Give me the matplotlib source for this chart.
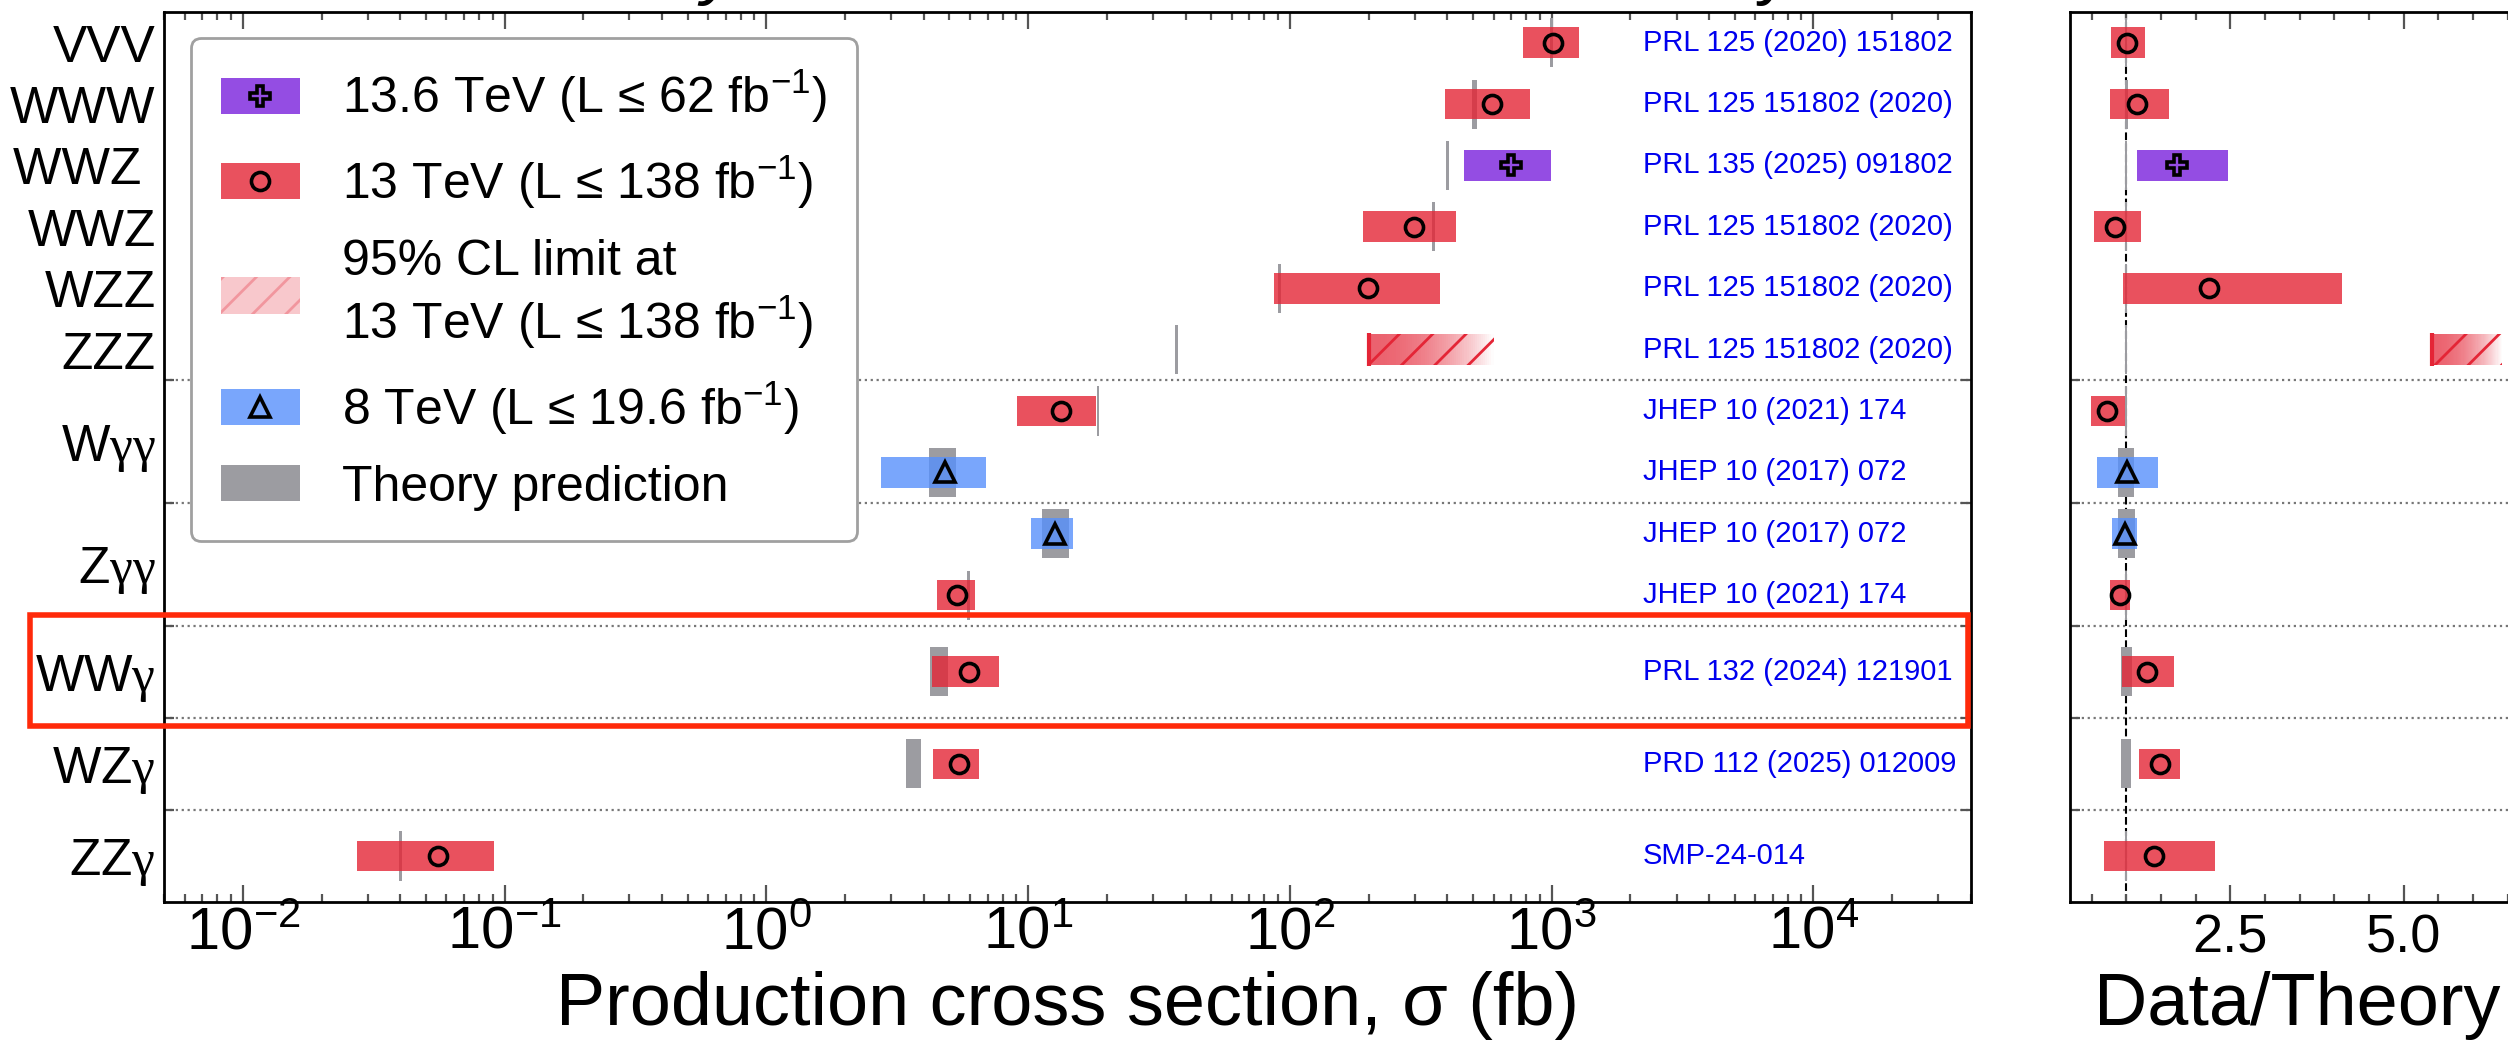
import matplotlib
matplotlib.use('Agg')
import matplotlib.pyplot as plt
import matplotlib.transforms as mtransforms
import numpy as np
from matplotlib.patches import Patch, Rectangle
from matplotlib.lines import Line2D
from matplotlib.ticker import MultipleLocator, FormatStrFormatter, LogLocator, NullFormatter

plt.rcParams['font.family'] = ['Liberation Sans', 'DejaVu Sans']
plt.rcParams['mathtext.fontset'] = 'custom'
plt.rcParams['mathtext.rm'] = 'Liberation Serif'
plt.rcParams['mathtext.it'] = 'Liberation Serif:italic'
plt.rcParams['mathtext.bf'] = 'Liberation Serif:bold'
plt.rcParams['hatch.linewidth'] = 1.0

# ---- data, top to bottom ----
labels = ['VVV', 'WWW', 'WWZ ', 'WWZ', 'WZZ', 'ZZZ',
          r'W$\mathrm{\gamma\gamma}$', r'Z$\mathrm{\gamma\gamma}$',
          r'WW$\mathrm{\gamma}$', r'WZ$\mathrm{\gamma}$', r'ZZ$\mathrm{\gamma}$']
label_pos = [0.5, 1.5, 2.5, 3.5, 4.5, 5.5, 7.0, 9.0, 10.75, 12.25, 13.75]
row_pos = [0.5, 1.5, 2.5, 3.5, 4.5, 5.5, 6.5, 7.5, 8.5, 9.5, 10.75, 12.25, 13.75]
separators = [6, 8, 10, 11.5, 13]

energy = ['13', '13', '13.6', '13', '13', 'limit', '13', '8', '8', '13', '13', '13', '13']
meas = [1010, 590, 697, 298, 199, np.nan, 13.4, 4.8, 12.7, 5.35, 5.96, 5.45, 0.0558]
meas_lo = [780, 391, 461, 191, 87, np.nan, 9.07, 2.74, 10.3, 4.50, 4.30, 4.34, 0.0274]
meas_hi = [1270, 824, 991, 431, 374, np.nan, 18.1, 6.92, 14.8, 6.27, 7.75, 6.50, 0.091]
theory = [1000, 508, 401, 354, 91, 37, 18.5, 4.73, 12.85, 5.92, 4.59, 3.65, 0.040]
theory_unc = [0.012, 0.022, 0.012, 0.015, 0.012, 0.012, 0.012, 0.118, 0.12, 0.012, 0.078, 0.068, 0.012]
refs = ['PRL 125 (2020) 151802', 'PRL 125 151802 (2020)', 'PRL 135 (2025) 091802',
        'PRL 125 151802 (2020)', 'PRL 125 151802 (2020)', 'PRL 125 151802 (2020)',
        'JHEP 10 (2021) 174', 'JHEP 10 (2017) 072', 'JHEP 10 (2017) 072',
        'JHEP 10 (2021) 174', 'PRL 132 (2024) 121901', 'PRD 112 (2025) 012009', 'SMP-24-014']
limit_lo, limit_hi = 200, 600      # ZZZ 95% CL limit (fb)
limit_ratio_hi = 6.42

red, blue, purple, gray = '#e42536', '#5790fc', '#7a21dd', '#9c9ca1'
style = {'13': (red, 'o', 6.5), '13.6': (purple, 'P', 7.5), '8': (blue, '^', 7.5)}

fig = plt.figure(figsize=(12.54, 5.22), dpi=200)
W, H = 2508, 1044
ax = fig.add_axes([164 / W, 1 - 902 / H, (1971 - 164) / W, 890 / H])
ax2 = fig.add_axes([2070 / W, 1 - 902 / H, 535 / W, 890 / H], sharey=ax)


def gradient_bar(a, y, x0, x1, logscale):
    n = 60
    if logscale:
        edges = np.logspace(np.log10(x0), np.log10(x1), n + 1)
    else:
        edges = np.linspace(x0, x1, n + 1)
    f = (np.arange(n) + 0.5) / n
    alphas = 0.72 * (1 - f**2)
    for k in range(n):
        a.barh(y, edges[k + 1] - edges[k], left=edges[k], height=0.5, color=red,
               alpha=alphas[k], lw=0, antialiased=False, zorder=3)
    a.barh(y, x1 - x0, left=x0, height=0.5, facecolor='none', edgecolor=red,
           hatch='//', lw=0, zorder=3.5)
    a.vlines(x0, y - 0.27, y + 0.27, colors=red, lw=1.5, zorder=4)


for i, y in enumerate(row_pos):
    t, u = theory[i], theory_unc[i]
    # theory band
    ax.barh(y, 2 * t * u, left=t * (1 - u), height=0.8, color=gray, lw=0, zorder=2)
    ax2.barh(y, 2 * u, left=1 - u, height=0.8, color=gray, lw=0, zorder=2)
    if energy[i] == 'limit':
        gradient_bar(ax, y, limit_lo, limit_hi, True)
        gradient_bar(ax2, y, limit_lo / t, limit_ratio_hi, False)
    else:
        c, mk, ms = style[energy[i]]
        ax.barh(y, meas_hi[i] - meas_lo[i], left=meas_lo[i], height=0.5, color=c,
                alpha=0.8, lw=0, zorder=3)
        ax.plot(meas[i], y, marker=mk, ms=ms, mfc='none', mec='k', mew=1.3, ls='', zorder=5)
        ax2.barh(y, (meas_hi[i] - meas_lo[i]) / t, left=meas_lo[i] / t, height=0.5,
                 color=c, alpha=0.8, lw=0, zorder=3)
        ax2.plot(meas[i] / t, y, marker=mk, ms=ms, mfc='none', mec='k', mew=1.3, ls='', zorder=5)
    trans = mtransforms.blended_transform_factory(ax.transAxes, ax.transData)
    ax.text(0.8185, y, refs[i], transform=trans, color='#0000ee', fontsize=10.5,
            va='center', ha='left')

for a in (ax, ax2):
    for s in separators:
        a.axhline(s, color='#777777', ls=':', lw=0.8, zorder=1)
    for sp in a.spines.values():
        sp.set_linewidth(1.0)
    a.tick_params(axis='x', which='both', direction='in', top=True, bottom=True,
                  color='#555555', width=0.8, labelsize=21.5, pad=1.5)
    a.tick_params(axis='x', which='major', length=6)
    a.tick_params(axis='x', which='minor', length=3)
    a.set_yticks(separators, minor=True)
    a.tick_params(axis='y', which='minor', direction='in', left=True, right=True,
                  length=3.5, width=0.8, color='#555555')

ax2.axvline(1.0, color='k', ls='--', lw=0.75, zorder=1.5)

ax.set_xscale('log')
ax.set_xlim(5e-3, 4e4)
ax.xaxis.set_major_locator(LogLocator(base=10, numticks=20))
ax.xaxis.set_minor_locator(LogLocator(base=10, subs=np.arange(2, 10), numticks=100))
ax.xaxis.set_minor_formatter(NullFormatter())
ax.set_ylim(14.5, 0)
ax.set_yticks(label_pos, labels)
ax.tick_params(axis='y', which='major', length=0, labelsize=18.5, pad=3)

ax2.set_xlim(0.19, 7.9)
ax2.xaxis.set_major_locator(MultipleLocator(2.5))
ax2.xaxis.set_minor_locator(MultipleLocator(0.5))
ax2.xaxis.set_major_formatter(FormatStrFormatter('%.1f'))
ax2.tick_params(axis='x', labelsize=19.5, pad=4)
ax2.tick_params(axis='y', which='major', left=False, labelleft=False)

ax.set_xlabel('Production cross section, σ (fb)', fontsize=26.6)
ax.xaxis.set_label_coords(0.5, -0.0775)
ax2.set_xlabel('Data/Theory', fontsize=26.6)
ax2.xaxis.set_label_coords(0.424, -0.0775)

# legend
mk_kw = dict(ls='', mfc='none', mec='k', mew=1.3)
handles = [
    (Patch(facecolor=purple, alpha=0.8, lw=0), Line2D([], [], marker='P', ms=7.5, **mk_kw)),
    (Patch(facecolor=red, alpha=0.8, lw=0), Line2D([], [], marker='o', ms=6.5, **mk_kw)),
    Patch(facecolor=(0.894, 0.145, 0.212, 0.25), edgecolor=(0.894, 0.145, 0.212, 0.3),
          hatch='//', lw=0),
    (Patch(facecolor=blue, alpha=0.8, lw=0), Line2D([], [], marker='^', ms=7.5, **mk_kw)),
    Patch(facecolor=gray, lw=0),
]
leg_labels = [r'13.6 TeV (L ≤ 62 $\mathdefault{fb^{-1}}$)',
              r'13 TeV (L ≤ 138 $\mathdefault{fb^{-1}}$)',
              '95% CL limit at\n' + r'13 TeV (L ≤ 138 $\mathdefault{fb^{-1}}$)',
              r'8 TeV (L ≤ 19.6 $\mathdefault{fb^{-1}}$)',
              'Theory prediction']
leg = ax.legend(handles, leg_labels, loc='upper left', bbox_to_anchor=(0.0149, 0.9708),
                borderaxespad=0, fontsize=18, handlelength=1.58, handleheight=0.74,
                handletextpad=0.85, labelspacing=0.56, borderpad=0.6, framealpha=1,
                edgecolor='#a0a0a0', fancybox=True)
leg.get_frame().set_linewidth(1.0)
leg.set_zorder(8)

# highlighted row
fig.add_artist(Rectangle((30 / W, 1 - 726 / H), (1968 - 30) / W, (726 - 615) / H,
                         transform=fig.transFigure, fill=False, ec='#ff2a0a', lw=2.0, zorder=10))

# title (mostly above the visible area)
fig.text(164 / W, 1 + 9 / H, 'CMS', fontsize=26, fontweight='bold', va='baseline')
fig.text(378 / W, 1 + 9 / H, 'Preliminary', fontsize=26, style='italic', va='baseline')
fig.text(1971 / W, 1 + 9 / H, 'July 2025', fontsize=26, ha='right', va='baseline')

fig.savefig('out.png', dpi=200)
